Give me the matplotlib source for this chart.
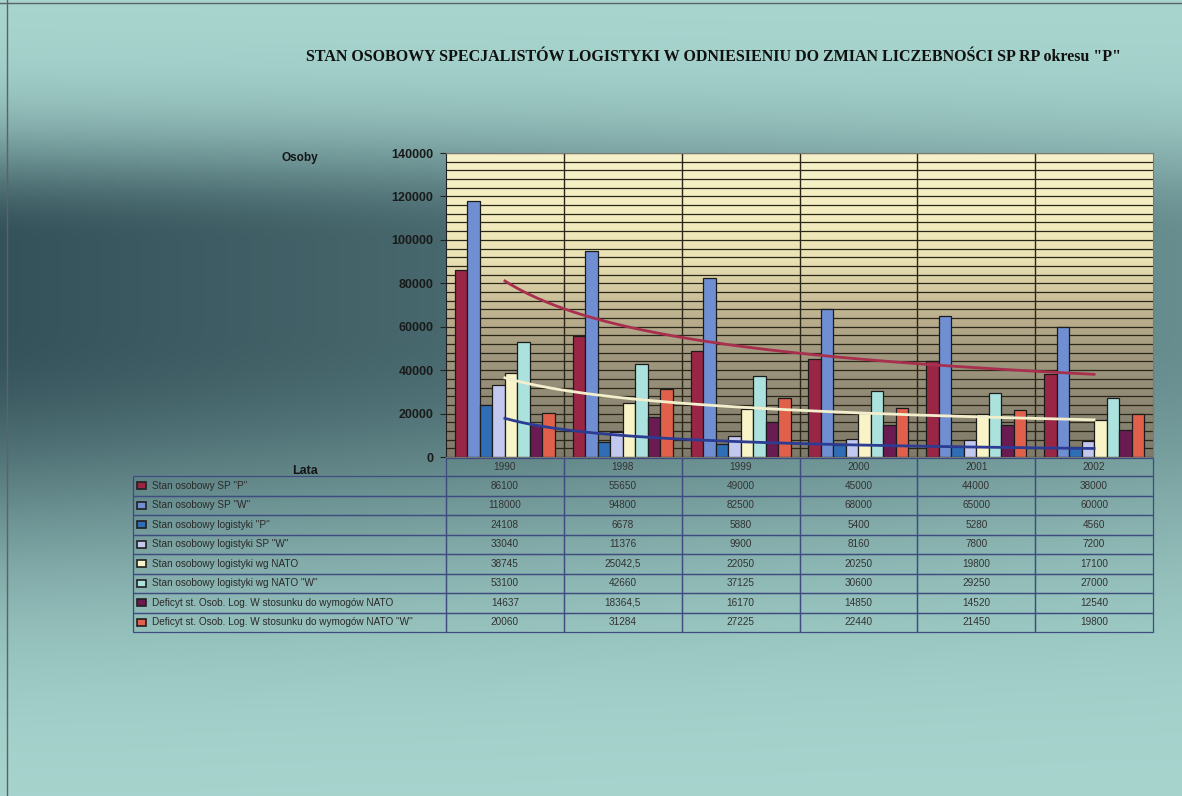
import numpy as np
import matplotlib.pyplot as plt
from matplotlib.colors import LinearSegmentedColormap, to_rgb
from matplotlib.table import Table
from matplotlib.patches import Rectangle

# dane z tabeli
lata = ["1990", "1998", "1999", "2000", "2001", "2002"]
nazwy = [
    'Stan osobowy SP "P"',
    'Stan osobowy SP "W"',
    'Stan osobowy logistyki "P"',
    'Stan osobowy logistyki SP "W"',
    'Stan osobowy logistyki wg NATO',
    'Stan osobowy logistyki wg NATO "W"',
    'Deficyt st. Osob. Log. W stosunku do wymogów NATO',
    'Deficyt st. Osob. Log. W stosunku do wymogów NATO "W"',
]
sp_p = [86100, 55650, 49000, 45000, 44000, 38000]
sp_w = [118000, 94800, 82500, 68000, 65000, 60000]
log_p = [24108, 6678, 5880, 5400, 5280, 4560]
log_w = [33040, 11376, 9900, 8160, 7800, 7200]
log_nato = [38745, 25042.5, 22050, 20250, 19800, 17100]
log_nato_w = [53100, 42660, 37125, 30600, 29250, 27000]
deficyt = [14637, 18364.5, 16170, 14850, 14520, 12540]
deficyt_w = [20060, 31284, 27225, 22440, 21450, 19800]
serie = [sp_p, sp_w, log_p, log_w, log_nato, log_nato_w, deficyt, deficyt_w]

kolory = ['#9a2646', '#6f8fd2', '#2f6db6', '#c3c9ee',
          '#f8f4c8', '#ace2de', '#6a1b52', '#e0604b']

W, H = 1182, 796
fig = plt.figure(figsize=(W / 100, H / 100), dpi=100)

# tlo strony
bg = fig.add_axes([0, 0, 1, 1], zorder=-5)
yy = np.arange(H)[:, None].astype(float)
xx = np.arange(W)[None, :].astype(float)
pas = np.where(yy < 240, np.exp(-((yy - 240) / 105) ** 2),
               np.where(yy > 330, np.exp(-((yy - 330) / 230) ** 2), 1.0))
bok = 1.0 - 0.45 * (xx / W)
t = (pas * bok)[..., None]
jasny = np.array(to_rgb('#a8d6cf'))
ciemny = np.array(to_rgb('#34525a'))
img = jasny * (1 - t) + ciemny * t
bg.imshow(img, extent=[0, W, H, 0], aspect='auto')
bg.plot([7, 7], [0, H], color='#5a6464', lw=1)
bg.plot([0, W], [3, 3], color='#5a6464', lw=1)
bg.set_xlim(0, W)
bg.set_ylim(H, 0)
bg.axis('off')

fig.text(714 / W, 1 - 57 / H,
         'STAN OSOBOWY SPECJALISTÓW LOGISTYKI W ODNIESIENIU DO ZMIAN LICZEBNOŚCI SP RP okresu "P"',
         ha='center', va='center', fontsize=11.5, fontweight='bold',
         family='Liberation Serif', color='#101010')
fig.text(300 / W, 1 - 158 / H, 'Osoby', ha='center', va='center',
         fontsize=8.5, fontweight='bold', family='Liberation Sans', color='#151515')
fig.text(305 / W, 1 - 471 / H, 'Lata', ha='center', va='center',
         fontsize=9, fontweight='bold', family='Liberation Sans', color='#151515')

# wykres slupkowy
x0, x1, y0, y1 = 446, 1153, 153, 457
ax = fig.add_axes([x0 / W, 1 - y1 / H, (x1 - x0) / W, (y1 - y0) / H])
ax.set_xlim(-0.5, 5.5)
ax.set_ylim(0, 140000)

tlo = LinearSegmentedColormap.from_list('tlo', [
    (0.0, '#7f7a6a'), (0.15, '#8b8572'), (0.35, '#a39a80'), (0.45, '#b9ad8c'),
    (0.55, '#d3c8a0'), (0.65, '#eae1b4'), (0.8, '#f3edc0'), (1.0, '#f6f1c8')])
ax.imshow(np.linspace(0, 1, 256)[:, None], extent=[-0.5, 5.5, 0, 140000],
          aspect='auto', cmap=tlo, origin='lower', zorder=0)

ax.set_yticks(np.arange(0, 140001, 20000))
ax.set_yticks(np.arange(0, 140001, 4000), minor=True)
ax.set_yticklabels([str(v) for v in range(0, 140001, 20000)],
                   fontsize=9, fontweight='bold', family='Liberation Sans', color='#1a1a1a')
ax.set_xticks([])
ax.tick_params(axis='y', which='major', length=4, width=0.8, pad=5, color='#222222')
ax.tick_params(axis='y', which='minor', length=0)
ax.set_axisbelow(True)
ax.grid(axis='y', which='both', color='#2a2618', lw=0.9)
for i in range(5):
    ax.axvline(i + 0.5, color='#2a2618', lw=1, zorder=1)

for s in ['top', 'right', 'bottom']:
    ax.spines[s].set_color('#7a7a70')
    ax.spines[s].set_linewidth(0.8)
ax.spines['left'].set_color('#202020')

szer = 0.106
poz = np.arange(len(lata))
for j, (wart, kol) in enumerate(zip(serie, kolory)):
    ax.bar(poz + (j - 3.5) * szer, wart, width=szer, color=kol,
           edgecolor='#1c1c1c', linewidth=0.9, zorder=2)

# linie trendu (potegowe)
xs = np.linspace(1, 6, 200)
for wart, kol in [(sp_p, '#a8304e'), (log_nato, '#f3efcc'), (log_p, '#2c3c92')]:
    b, a = np.polyfit(np.log(np.arange(1, 7)), np.log(wart), 1)
    ax.plot(xs - 1, np.exp(a) * xs ** b, color=kol, lw=2, zorder=3)

# tabela danych
t0, t1 = 458, 632
tab_ax = fig.add_axes([133 / W, 1 - t1 / H, (1153 - 133) / W, (t1 - t0) / H])
tab_ax.set_xlim(0, 1)
tab_ax.set_ylim(0, 1)
tab_ax.axis('off')

tab = Table(tab_ax, bbox=[0, 0, 1, 1])
szer_etyk = (446 - 133) / 1020
szer_kol = (1 - szer_etyk) / 6
wys_nagl = 18 / 174
wys_wiersz = 19.5 / 174
krawedz = '#3e4c80'


def fmt(v):
    return str(int(v)) if float(v).is_integer() else str(v).replace('.', ',')


c = tab.add_cell(0, 0, szer_etyk, wys_nagl, text='', facecolor='none')
c.visible_edges = ''
for k, rok in enumerate(lata):
    c = tab.add_cell(0, k + 1, szer_kol, wys_nagl, text=rok, loc='center',
                     facecolor='none', edgecolor=krawedz)
    c.get_text().set_color('#333333')
for r, (nazwa, wart) in enumerate(zip(nazwy, serie)):
    c = tab.add_cell(r + 1, 0, szer_etyk, wys_wiersz, text=nazwa, loc='left',
                     facecolor='none', edgecolor=krawedz)
    c.PAD = 19 / 313
    c.get_text().set_color('#2a2a2a')
    for k, v in enumerate(wart):
        c = tab.add_cell(r + 1, k + 1, szer_kol, wys_wiersz, text=fmt(v), loc='center',
                         facecolor='none', edgecolor=krawedz)
        c.get_text().set_color('#333333')
tab.auto_set_font_size(False)
for c in tab.get_celld().values():
    c.set_linewidth(0.9)
    c.get_text().set_family('Liberation Sans')
    c.get_text().set_fontsize(7.2)
tab_ax.add_table(tab)

# znaczniki legendy
for r, kol in enumerate(kolory):
    yc = (t1 - (476 + 19.5 * (r + 0.5))) / 174
    tab_ax.add_patch(Rectangle((4 / 1020, yc - 3.5 / 174), 9 / 1020, 7 / 174,
                               facecolor=kol, edgecolor='#202020', lw=1.2))

fig.savefig('out.png', dpi=100)
